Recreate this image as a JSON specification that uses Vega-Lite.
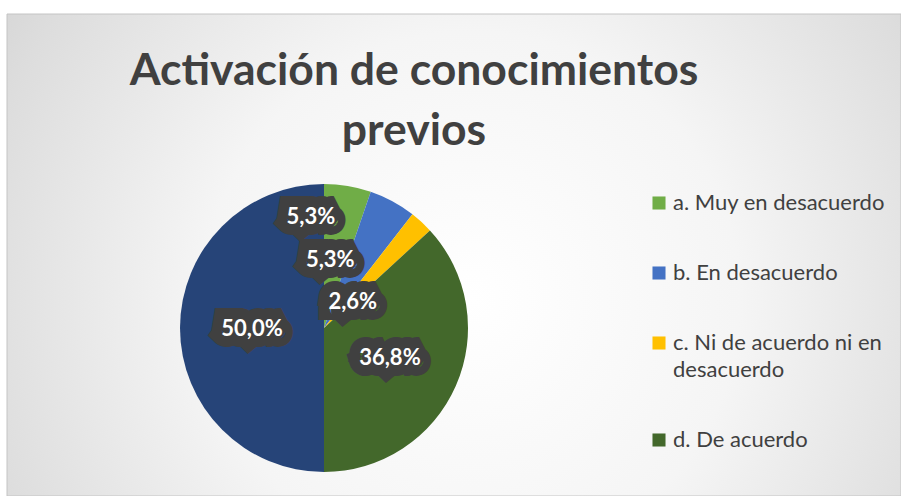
{
  "$schema": "https://vega.github.io/schema/vega-lite/v6.json",
  "width": 894,
  "height": 482,
  "autosize": {"type": "none"},
  "padding": {"left": 7, "top": 14, "right": 0, "bottom": 0},
  "background": "#ffffff",
  "title": {
    "text": ["Activación de conocimientos", "previos"],
    "font": "Lato",
    "fontSize": 44.5,
    "fontWeight": "bold",
    "color": "#404040",
    "lineHeight": 60,
    "anchor": "middle",
    "dx": -40,
    "offset": -141
  },
  "data": {
    "values": [
      {"categoria": "a. Muy en desacuerdo", "porcentaje": 0.05263},
      {"categoria": "b. En desacuerdo", "porcentaje": 0.05263},
      {"categoria": "c. Ni de acuerdo ni en desacuerdo", "porcentaje": 0.02632},
      {"categoria": "d. De acuerdo", "porcentaje": 0.36842},
      {"categoria": "e. Totalmente de acuerdo", "porcentaje": 0.5}
    ]
  },
  "layer": [
    {
      "data": {"values": [{}]},
      "mark": {
        "type": "rect",
        "stroke": "#c4c4c4",
        "strokeWidth": 1,
        "color": {
          "gradient": "radial",
          "x1": 0.52, "y1": 0.55, "r1": 0,
          "x2": 0.52, "y2": 0.55, "r2": 0.75,
          "stops": [
            {"offset": 0, "color": "#ffffff"},
            {"offset": 0.4, "color": "#f5f5f5"},
            {"offset": 0.75, "color": "#dddddd"},
            {"offset": 1, "color": "#c8c8c8"}
          ]
        }
      },
      "encoding": {
        "x": {"value": 0},
        "x2": {"value": "width"},
        "y": {"value": 0},
        "y2": {"value": "height"}
      }
    },
    {
      "mark": {"type": "arc", "x": 317, "y": 314, "outerRadius": 144, "strokeWidth": 0},
      "encoding": {
        "theta": {"field": "porcentaje", "type": "quantitative", "stack": true},
        "order": {"field": "categoria", "type": "ordinal", "sort": "ascending"},
        "color": {
          "field": "categoria",
          "type": "nominal",
          "scale": {
            "domain": ["a. Muy en desacuerdo", "b. En desacuerdo", "c. Ni de acuerdo ni en desacuerdo", "d. De acuerdo", "e. Totalmente de acuerdo"],
            "range": ["#70AD47", "#4472C4", "#FFC000", "#43682B", "#264478"]
          },
          "legend": {
            "orient": "none",
            "legendX": 641,
            "legendY": 178,
            "values": ["a. Muy en desacuerdo", "b. En desacuerdo", "c. Ni de acuerdo ni en desacuerdo", "d. De acuerdo"],
            "title": null,
            "padding": 0,
            "symbolType": "square",
            "symbolSize": 170,
            "symbolStrokeWidth": 0,
            "labelFont": "Lato",
            "labelFontSize": 22,
            "labelColor": "#404040",
            "labelOffset": 3,
            "labelLimit": 400,
            "rowPadding": 48,
            "labelExpr": "datum.label == 'c. Ni de acuerdo ni en desacuerdo' ? ['c. Ni de acuerdo ni en', 'desacuerdo'] : datum.label",
            "encode": {"labels": {"update": {"lineHeight": {"value": 27}}}}
          }
        }
      }
    },
    {
      "mark": {
        "type": "text",
        "x": 317,
        "y": 314,
        "radius": 72,
        "dx": {"expr": "substring(datum.categoria,0,1) == 'a' ? -25 : substring(datum.categoria,0,1) == 'b' ? -28 : substring(datum.categoria,0,1) == 'c' ? -20 : 0"},
        "dy": {"expr": "substring(datum.categoria,0,1) == 'a' ? -40 : substring(datum.categoria,0,1) == 'b' ? -5 : substring(datum.categoria,0,1) == 'c' ? 27 : 1"},
        "font": "Lato",
        "fontSize": 22,
        "fontWeight": "bold",
        "fill": "#404040",
        "stroke": "#404040",
        "strokeWidth": 22,
        "strokeJoin": "miter",
        "strokeMiterLimit": 1.5
      },
      "encoding": {
        "theta": {"field": "porcentaje", "type": "quantitative", "stack": true},
        "order": {"field": "categoria", "type": "ordinal", "sort": "ascending"},
        "text": {"field": "porcentaje", "type": "quantitative", "format": ".1%"}
      }
    },
    {
      "mark": {
        "type": "text",
        "x": 317,
        "y": 314,
        "radius": 72,
        "dx": {"expr": "substring(datum.categoria,0,1) == 'a' ? -25 : substring(datum.categoria,0,1) == 'b' ? -28 : substring(datum.categoria,0,1) == 'c' ? -20 : 0"},
        "dy": {"expr": "substring(datum.categoria,0,1) == 'a' ? -40 : substring(datum.categoria,0,1) == 'b' ? -5 : substring(datum.categoria,0,1) == 'c' ? 27 : 1"},
        "font": "Lato",
        "fontSize": 22,
        "fontWeight": "bold",
        "fill": "#ffffff"
      },
      "encoding": {
        "theta": {"field": "porcentaje", "type": "quantitative", "stack": true},
        "order": {"field": "categoria", "type": "ordinal", "sort": "ascending"},
        "text": {"field": "porcentaje", "type": "quantitative", "format": ".1%"}
      }
    }
  ],
  "config": {
    "view": {"stroke": null},
    "locale": {
      "number": {"decimal": ",", "thousands": ".", "grouping": [3], "currency": ["", " €"]}
    }
  }
}
